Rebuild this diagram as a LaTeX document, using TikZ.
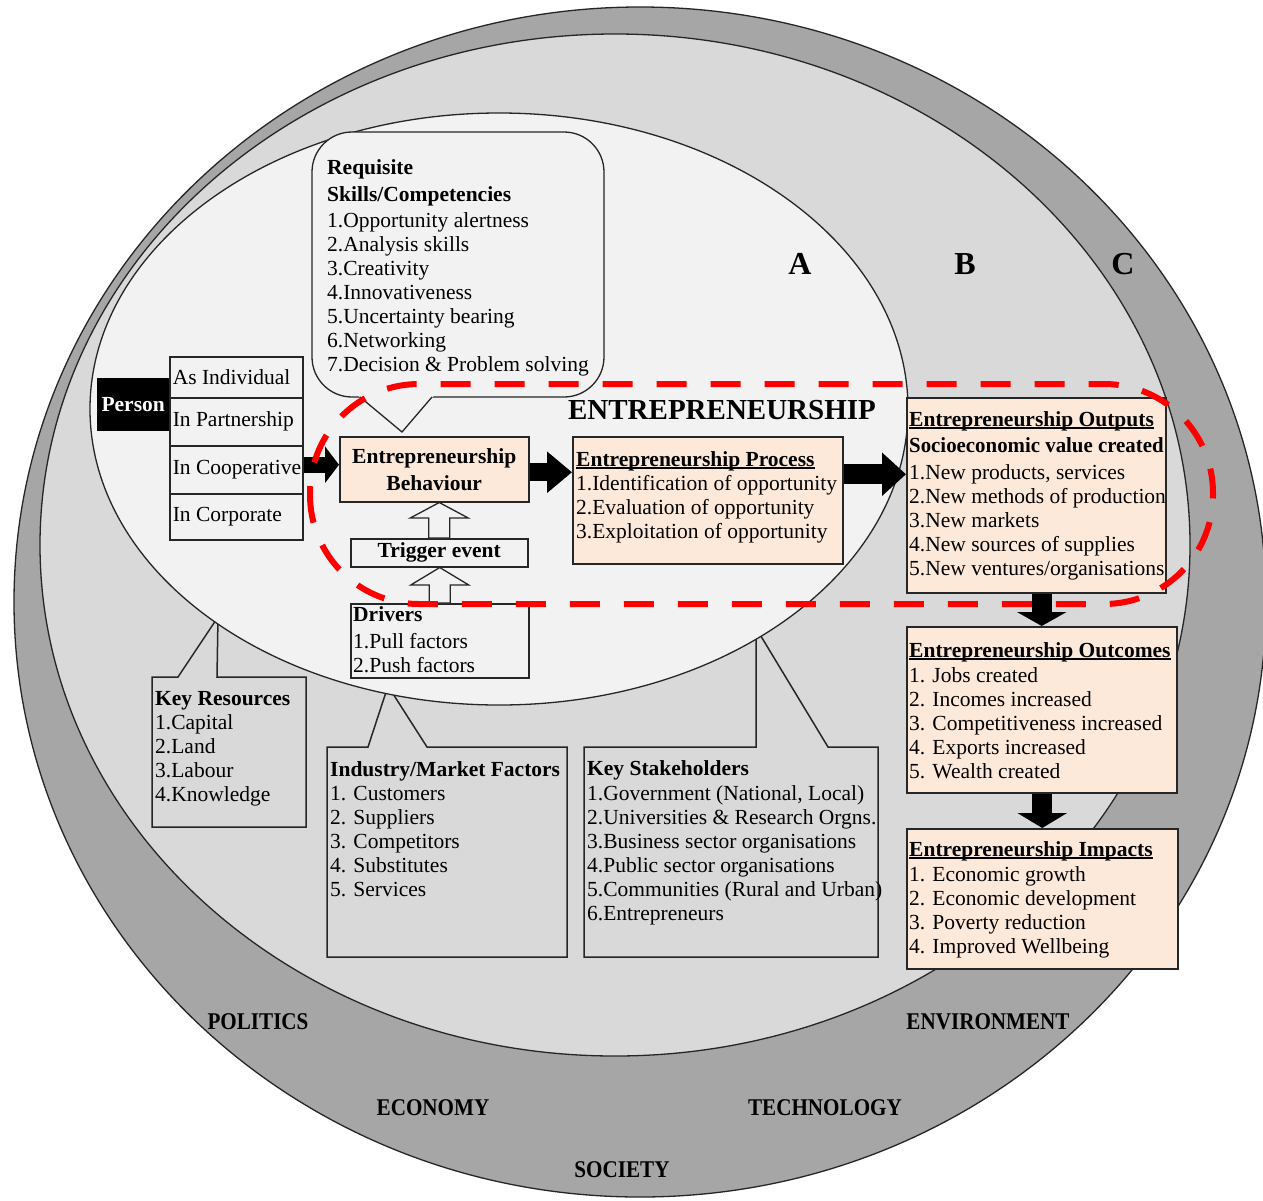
\documentclass[tikz,border=0pt]{standalone}
\usepackage{fontspec}
\setmainfont{Liberation Serif}
\usetikzlibrary{arrows.meta,calc}
\definecolor{ringc}{HTML}{A6A6A6}
\definecolor{midc}{HTML}{D9D9D9}
\definecolor{innerc}{HTML}{F2F2F2}
\definecolor{peachc}{HTML}{FDE9D9}
\definecolor{edgec}{HTML}{262626}
\newcommand\bodyfont{\fontsize{21.5}{24}\selectfont}
\newcommand\ulin[1]{\setbox0=\hbox{#1}\rlap{\rule[-2.6pt]{\wd0}{1.3pt}}\box0}
\newcommand\leftcell[1]{\makebox[127pt][l]{#1}}
\begin{document}
\begin{tikzpicture}[x=1pt,y=-1pt,
  box/.style={draw=edgec, line width=1.5pt, inner sep=0pt, anchor=north west},
  peachbox/.style={box, fill=peachc},
  lightbox/.style={box, fill=innerc},
  cellbox/.style={lightbox, minimum width=133pt, inner xsep=3pt, font=\bodyfont},
  greybox/.style={draw=edgec, line width=1.5pt, fill=midc},
  txt/.style={inner sep=0pt, anchor=north west, align=left, font=\bodyfont},
  hollow/.style={draw=edgec, fill=innerc, line width=1.3pt},
  region/.style={draw=edgec, line width=1.3pt},
  outerlbl/.style={font=\fontsize{24}{24}\selectfont\bfseries},
  letter/.style={font=\fontsize{32}{32}\selectfont\bfseries}]
\useasboundingbox (0,0) rectangle (1263,1200);
\fill[white] (0,0) rectangle (1263,1200);
% nested regions
\draw[region, fill=ringc] (640,602) ellipse [x radius=626pt, y radius=595pt];
\draw[region, fill=midc] (615,545) ellipse [x radius=575pt, y radius=511pt];
% bottom callouts
\draw[greybox] (152,677) -- (178,677) -- (218,617) -- (217,677) -- (306,677) -- (306,827) -- (152,827) -- cycle;
\node[txt] (kres) at (155,691) {\textbf{Key Resources}\\1.Capital\\2.Land\\3.Labour\\4.Knowledge};
\draw[greybox] (327,747) -- (368,747) -- (388,686) -- (427,747) -- (567,747) -- (567,957) -- (327,957) -- cycle;
\node[txt] (ind) at (330,761) {\textbf{Industry/Market Factors}\\1. Customers\\2. Suppliers\\3. Competitors\\4. Substitutes\\5. Services};
\draw[greybox] (584,747) -- (756,747) -- (756,628) -- (828,747) -- (878,747) -- (878,957) -- (584,957) -- cycle;
\node[txt] (stake) at (587,760) {\textbf{Key Stakeholders}\\[1pt]1.Government (National, Local)\\2.Universities \& Research Orgns.\\3.Business sector organisations\\4.Public sector organisations\\5.Communities (Rural and Urban)\\6.Entrepreneurs};
% inner region
\draw[region, fill=innerc] (499,409) ellipse [x radius=409pt, y radius=296pt];
% skills callout
\draw[region, fill=innerc, rounded corners=40pt] (312,132) rectangle (604,397);
\fill[innerc] (358,395.5) -- (434,395.5) -- (402,432) -- cycle;
\coordinate (skilltip) at (402,432);
\draw[region] (360,397) -- (skilltip) -- (432,397);
\node[txt] (skills) at (327,159) {\textbf{Requisite}\\[3pt]\textbf{Skills/Competencies}\\[2pt]1.Opportunity alertness\\2.Analysis skills\\3.Creativity\\4.Innovativeness\\5.Uncertainty bearing\\6.Networking\\7.Decision \& Problem solving};
% person
\node[draw=black, fill=black, text=white, inner sep=0pt, anchor=north west, minimum width=72pt, minimum height=52pt, font=\bodyfont\bfseries] (person) at (97,378) {Person};
\node[cellbox, minimum height=41pt] (indiv) at (169,356) {\leftcell{As Individual}};
\node[cellbox, minimum height=48pt] (partner) at (169,397) {\leftcell{In Partnership}};
\node[cellbox, minimum height=48pt] (coop) at (169,445) {\leftcell{In Cooperative}};
\node[cellbox, minimum height=46pt] (corp) at (169,493) {\leftcell{In Corporate}};
% process chain
\node[peachbox, minimum width=189pt, minimum height=65pt, align=center, font=\fontsize{21.5}{27}\selectfont\bfseries] (beh) at (339,436) {Entrepreneurship\\Behaviour};
\node[lightbox, minimum width=177pt, minimum height=28pt, font=\bodyfont\bfseries] (trig) at (350,538) {Trigger event};
\node[lightbox, minimum width=178pt, minimum height=74pt] (drv) at (350,603) {};
\node[txt] (drvtxt) at (353,606) {\textbf{Drivers}\\[3pt]1.Pull factors\\2.Push factors};
\node[peachbox, minimum width=270pt, minimum height=127pt] (proc) at (572,436) {};
\node[txt] (proctxt) at (576,451) {\textbf{\ulin{Entrepreneurship Process}}\\1.Identification of opportunity\\2.Evaluation of opportunity\\3.Exploitation of opportunity};
\node[peachbox, minimum width=259pt, minimum height=195pt] (out) at (906,397) {};
\node[txt] (outtxt) at (909,411) {\textbf{\ulin{Entrepreneurship Outputs}}\\[2pt]\textbf{\scalebox{0.97}[1]{Socioeconomic value created}}\\[3pt]1.New products, services\\2.New methods of production\\3.New markets\\4.New sources of supplies\\5.New ventures/organisations};
\node[peachbox, minimum width=270pt, minimum height=166pt] (outc) at (906,626) {};
\node[txt] (outctxt) at (909,642) {\textbf{\ulin{Entrepreneurship Outcomes}}\\[1pt]1. Jobs created\\2. Incomes increased\\3. Competitiveness increased\\4. Exports increased\\5. Wealth created};
\node[peachbox, minimum width=271pt, minimum height=140pt] (imp) at (906,828) {};
\node[txt] (imptxt) at (909,841) {\textbf{\ulin{Entrepreneurship Impacts}}\\[1pt]1. Economic growth\\2. Economic development\\3. Poverty reduction\\4. Improved Wellbeing};
% block arrows
\draw[line width=16pt, -{Triangle[length=14pt, width=36pt]}] ([yshift=5pt]coop.east) -- ([yshift=5pt]coop.east -| beh.west);
\draw[line width=18pt, -{Triangle[length=25pt, width=40pt]}] ([yshift=-3pt]beh.east) -- ([yshift=-3pt]beh.east -| proc.west);
\draw[line width=20pt, -{Triangle[length=24pt, width=42pt]}] ([yshift=26pt]proc.east) -- ([yshift=26pt]proc.east -| out.west);
\draw[line width=20pt, -{Triangle[length=14pt, width=49pt]}] (outc.north |- out.south) -- (outc.north);
\draw[line width=20pt, -{Triangle[length=15pt, width=49pt]}] (imp.north |- outc.south) -- (imp.north);
% hollow arrows
\draw[hollow] ($(trig.north)+(-10.5,0)$) -- ++(0,-20) -- ++(-18.5,0) -- (trig.north |- beh.south) -- ($(trig.north)+(29,-20)$) -- ++(-18.5,0) -- ++(0,20) -- cycle;
\draw[hollow] ($(drv.north)+(-10.5,0)$) -- ++(0,-18) -- ++(-18.5,0) -- (drv.north |- trig.south) -- ($(drv.north)+(29,-18)$) -- ++(-18.5,0) -- ++(0,18) -- cycle;
% labels
\node[letter] (labA) at (800,264) {A};
\node[letter] (labB) at (965,264) {B};
\node[letter] (labC) at (1123,264) {C};
\node[font=\fontsize{29}{29}\selectfont\bfseries] (ent) at (722,410) {ENTREPRENEURSHIP};
\node[outerlbl] (pol) at (258,1022) {\scalebox{0.88}[1]{POLITICS}};
\node[outerlbl] (env) at (988,1022) {\scalebox{0.88}[1]{ENVIRONMENT}};
\node[outerlbl] (eco) at (433,1108) {\scalebox{0.88}[1]{ECONOMY}};
\node[outerlbl] (tec) at (825,1108) {\scalebox{0.88}[1]{TECHNOLOGY}};
\node[outerlbl] (soc) at (622,1170) {\scalebox{0.88}[1]{SOCIETY}};
% red dashed boundary
\draw[draw=red, line width=6pt, dash pattern=on 30pt off 24pt, rounded corners=109pt] (310,384) rectangle (1213,604);
\end{tikzpicture}
\end{document}
